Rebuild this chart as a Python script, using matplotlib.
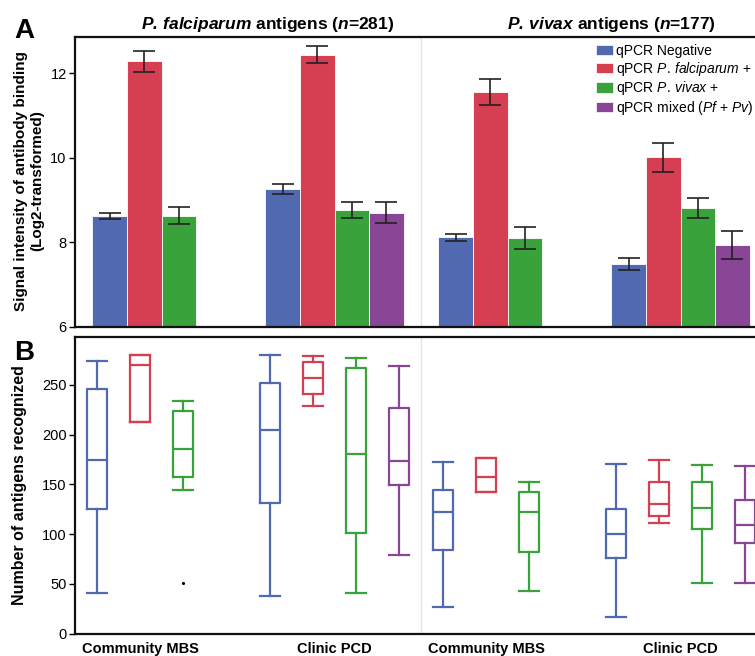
import numpy as np
import matplotlib
matplotlib.use("Agg")
import matplotlib.pyplot as plt
from matplotlib.patches import Patch

plt.rcParams['font.family'] = ['Liberation Sans', 'DejaVu Sans']
plt.rcParams['mathtext.fontset'] = 'custom'
plt.rcParams['mathtext.rm'] = 'Liberation Sans'
plt.rcParams['mathtext.it'] = 'Liberation Sans:italic'
plt.rcParams['mathtext.bf'] = 'Liberation Sans:bold'
plt.rcParams['mathtext.bfit'] = 'Liberation Sans:italic:bold'

# groups: Pf community, Pf clinic, Pv community, Pv clinic
groups = ['Community MBS', 'Clinic PCD', 'Community MBS', 'Clinic PCD']
series = ['qPCR Negative', r'qPCR $\mathit{P.\,falciparum}$ +',
          r'qPCR $\mathit{P.\,vivax}$ +', r'qPCR mixed ($\mathit{Pf}$ + $\mathit{Pv}$)']
colors = ['#5069b0', '#d63e52', '#39a23b', '#894596']

# panel A: mean signal and error (None = no bar)
sig_neg = [8.62, 9.26, 8.12, 7.49]
sig_pf = [12.29, 12.44, 11.56, 10.01]
sig_pv = [8.63, 8.77, 8.11, 8.81]
sig_mix = [None, 8.70, None, 7.94]
err_neg = [0.07, 0.12, 0.09, 0.15]
err_pf = [0.25, 0.20, 0.30, 0.35]
err_pv = [0.20, 0.19, 0.26, 0.23]
err_mix = [None, 0.25, None, 0.32]

# panel B: boxplot stats (whislo, q1, med, q3, whishi)
box_neg = [(41, 125, 174, 246, 274), (38, 131, 205, 252, 280),
           (27, 84, 122, 144, 172), (17, 76, 100, 125, 170)]
box_pf = [(213, 213, 270, 280, 280), (229, 241, 257, 273, 279),
          (142, 142, 157, 176, 176), (111, 118, 130, 152, 174)]
box_pv = [(144, 157, 185, 224, 234), (41, 101, 180, 267, 277),
          (43, 82, 122, 142, 152), (51, 105, 126, 152, 169)]
box_mix = [None, (79, 149, 173, 227, 269), None, (51, 91, 109, 134, 168)]
outliers_pv = [[51], [], [], []]

sig_all = [sig_neg, sig_pf, sig_pv, sig_mix]
err_all = [err_neg, err_pf, err_pv, err_mix]
box_all = [box_neg, box_pf, box_pv, box_mix]

W, H = 755, 656
fig = plt.figure(figsize=(W / 100, H / 100), dpi=100)

x_left, x_right = -0.5, 19.5
ax_w = (767 - 75) / W
axA = fig.add_axes([75 / W, 1 - 327 / H, ax_w, (327 - 37) / H])
axB = fig.add_axes([75 / W, 1 - 633.5 / H, ax_w, (633.5 - 337) / H])

# ---- panel A bars
for s in range(4):
    for g in range(4):
        v = sig_all[s][g]
        if v is None:
            continue
        x = 5 * g + s + 0.5
        axA.bar(x, v - 6, bottom=6, width=1.0, color=colors[s],
                edgecolor='#ffffff', linewidth=0.6, zorder=2)
        axA.errorbar(x, v, yerr=err_all[s][g], fmt='none', ecolor='#222222',
                     elinewidth=1.2, capsize=8, capthick=1.2, zorder=3)

axA.set_xlim(x_left, x_right)
axA.set_ylim(6, 12.86)
axA.set_yticks([6, 8, 10, 12])
axA.set_xticks([])
axA.axvline(9.5, color='#e6e6e6', lw=1, zorder=1)

# ---- panel B boxes
for s in range(4):
    for g in range(4):
        st = box_all[s][g]
        if st is None:
            continue
        lo, q1, med, q3, hi = st
        fl = outliers_pv[g] if s == 2 else []
        stat = dict(whislo=lo, q1=q1, med=med, q3=q3, whishi=hi, fliers=fl)
        pos = 5 * g + 2 + (s - 1.5) * 1.245
        c = colors[s]
        axB.bxp([stat], positions=[pos], widths=0.58, capwidths=0.58,
                boxprops=dict(color=c, lw=1.6),
                whiskerprops=dict(color=c, lw=1.6),
                capprops=dict(color=c, lw=1.6),
                medianprops=dict(color=c, lw=1.6),
                flierprops=dict(marker='.', markersize=2.5, markerfacecolor='k',
                                markeredgecolor='k'),
                manage_ticks=False)

axB.set_xlim(x_left, x_right)
axB.set_ylim(0, 298)
axB.set_yticks([0, 50, 100, 150, 200, 250])
axB.axvline(9.5, color='#e6e6e6', lw=1, zorder=1)

# category labels under the boxes
lab_pos = []
for g in range(4):
    present = [s for s in range(4) if box_all[s][g] is not None]
    ps = [5 * g + 2 + (s - 1.5) * 1.245 for s in present]
    lab_pos.append((min(ps) + max(ps)) / 2)
axB.set_xticks(lab_pos)
axB.set_xticklabels(groups, fontsize=10.5, fontweight='bold')
axB.tick_params(axis='x', length=0, pad=6)

for ax in (axA, axB):
    for sp in ax.spines.values():
        sp.set_linewidth(1.6)
        sp.set_color('#111111')
    ax.tick_params(axis='y', labelsize=10.5, length=4, width=1, direction='out', pad=2)

# titles, labels
fig.text(268 / W, 1 - 25 / H, r'$\mathbfit{P.\,falciparum}$ antigens ($\mathbfit{n}$=281)',
         ha='center', va='center', fontsize=12.5, fontweight='bold')
fig.text(611 / W, 1 - 25 / H, r'$\mathbfit{P.\,vivax}$ antigens ($\mathbfit{n}$=177)',
         ha='center', va='center', fontsize=12.5, fontweight='bold')
fig.text(14 / W, 1 - 38 / H, 'A', fontsize=20, fontweight='bold', ha='left', va='baseline')
fig.text(14 / W, 1 - 360 / H, 'B', fontsize=20, fontweight='bold', ha='left', va='baseline')

fig.text(29 / W, 1 - 181 / H, 'Signal intensity of antibody binding\n(Log2-transformed)',
         rotation=90, ha='center', va='center', fontsize=11, fontweight='bold',
         multialignment='center', linespacing=1.15)
fig.text(20 / W, 1 - 485 / H, 'Number of antigens recognized', rotation=90,
         ha='center', va='center', fontsize=11.5, fontweight='bold')

handles = [Patch(facecolor=c, edgecolor='#ffffff', lw=0.5) for c in colors]
fig.legend(handles, series, loc='upper left', bbox_to_anchor=(596 / W, 1 - 44 / H),
           frameon=False, fontsize=10, handlelength=1.25, handleheight=0.75,
           handletextpad=0.2, labelspacing=0.12, borderpad=0, borderaxespad=0)

fig.savefig('out.png', dpi=100)
